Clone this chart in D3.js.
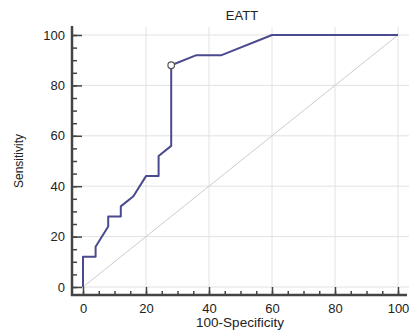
<!DOCTYPE html>
<html>
<head>
<meta charset="utf-8">
<script src="https://cdn.jsdelivr.net/npm/d3@7"></script>
<style>
  body { margin: 0; background: #fff; }
  svg { display: block; font-family: "Liberation Sans", Arial, sans-serif; }
</style>
</head>
<body>
<svg width="409" height="331"></svg>
<script>
let title = "EATT";
let xLabel = "100-Specificity";
let yLabel = "Sensitivity";

// ROC curve points: 100-specificity, sensitivity
let fpr = [0, 0, 4, 4, 8, 8, 12, 12, 16, 20, 24, 24, 28, 28, 36, 44, 60, 100];
let tpr = [0, 12, 12, 16, 24, 28, 28, 32, 36, 44, 44, 52, 56, 88, 92, 92, 100, 100];
let cutoff = [28, 88];

let majorTicks = [0, 20, 40, 60, 80, 100];
let minorTicks = d3.range(0, 101, 5);

let svg = d3.select("svg");

let x = d3.scaleLinear().domain([0, 100]).range([83, 398]);
let y = d3.scaleLinear().domain([0, 100]).range([287, 35]);

let axisX = 72, axisY = 295;

// grid
let grid = svg.append("g").attr("stroke", "#e2e2e2").attr("stroke-width", 1);
grid.selectAll(".gv")
  .data(majorTicks.filter(d => d > 0))
  .enter().append("line")
  .attr("x1", d => x(d)).attr("x2", d => x(d))
  .attr("y1", 27).attr("y2", axisY);
grid.selectAll(".gh")
  .data(majorTicks)
  .enter().append("line")
  .attr("x1", axisX).attr("x2", 409)
  .attr("y1", d => y(d)).attr("y2", d => y(d));

// diagonal reference
svg.append("line")
  .attr("x1", x(0)).attr("y1", y(0))
  .attr("x2", x(100)).attr("y2", y(100))
  .attr("stroke", "#d3c8cc")
  .attr("stroke-width", 1);

// axes
let yAxis = d3.axisLeft(y).tickValues(majorTicks).tickSize(-10).tickSizeOuter(0).tickPadding(7);
let yMinor = d3.axisLeft(y).tickValues(minorTicks).tickSize(-5).tickFormat("");
let xAxis = d3.axisBottom(x).tickValues(majorTicks).tickSize(-8).tickSizeOuter(0).tickPadding(9);
let xMinor = d3.axisBottom(x).tickValues(minorTicks).tickSize(-4).tickFormat("");

function styleAxis(g) {
  g.select(".domain").remove();
  g.selectAll("line").attr("stroke", "#444").attr("stroke-width", 1.5);
  g.selectAll("text").attr("fill", "#222").style("font-size", "13px");
}

svg.append("g").attr("transform", `translate(${axisX},0)`).call(yMinor).call(styleAxis);
svg.append("g").attr("transform", `translate(${axisX},0)`).call(yAxis).call(styleAxis);
svg.append("g").attr("transform", `translate(0,${axisY})`).call(xMinor).call(styleAxis);
svg.append("g").attr("transform", `translate(0,${axisY})`).call(xAxis).call(styleAxis);

svg.append("line")
  .attr("x1", axisX).attr("x2", axisX).attr("y1", 26).attr("y2", axisY + 1)
  .attr("stroke", "#444").attr("stroke-width", 2.5);
svg.append("line")
  .attr("x1", axisX - 1).attr("x2", 407).attr("y1", axisY).attr("y2", axisY)
  .attr("stroke", "#444").attr("stroke-width", 2.5);

// ROC curve
let pts = fpr.map((f, i) => [f, tpr[i]]);
svg.append("path")
  .datum(pts)
  .attr("fill", "none")
  .attr("stroke", "#4a4a8e")
  .attr("stroke-width", 2)
  .attr("stroke-linejoin", "round")
  .attr("d", d3.line().x(d => x(d[0])).y(d => y(d[1])));

svg.append("circle")
  .attr("cx", x(cutoff[0])).attr("cy", y(cutoff[1]))
  .attr("r", 3.3)
  .attr("fill", "#fff")
  .attr("stroke", "#555")
  .attr("stroke-width", 1.2);

// titles
svg.append("text")
  .attr("x", 242).attr("y", 20)
  .attr("text-anchor", "middle")
  .style("font-size", "13px")
  .attr("fill", "#222")
  .text(title);

svg.append("text")
  .attr("x", 240).attr("y", 327)
  .attr("text-anchor", "middle")
  .style("font-size", "13.5px")
  .attr("fill", "#222")
  .text(xLabel);

svg.append("text")
  .attr("transform", "translate(23,161) rotate(-90)")
  .attr("text-anchor", "middle")
  .style("font-size", "12px")
  .attr("fill", "#222")
  .text(yLabel);
</script>
</body>
</html>
